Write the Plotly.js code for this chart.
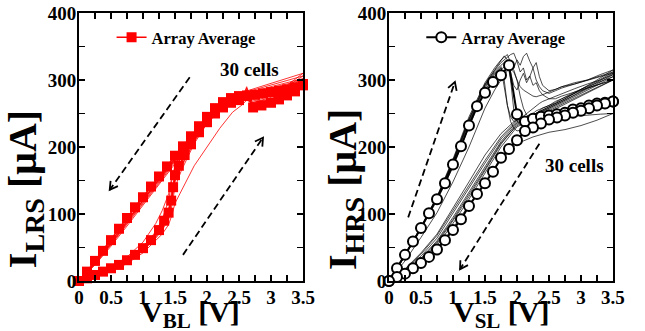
<!DOCTYPE html>
<html><head><meta charset="utf-8">
<script src="https://cdn.plot.ly/plotly-3.0.1.min.js"></script>
<style>html,body{margin:0;padding:0;background:#fff}</style>
</head><body>
<div id="chart" style="width:645px;height:331px"></div>
<script>
// ---- tick labels ----
const xTickVals = [0,0.25,0.5,0.75,1,1.25,1.5,1.75,2,2.25,2.5,2.75,3,3.25,3.5];
const xTickText = ['0','','0.5','','1','','1.5','','2','','2.5','','3','','3.5'];
const yTickVals = [0,50,100,150,200,250,300,350,400];
const yTickText = ['0','','100','','200','','300','','400'];

// ---- LEFT panel: I_LRS vs V_BL ----
const lrsAvgUpV = [0,0.125,0.25,0.375,0.5,0.625,0.75,0.875,1.0,1.125,1.25,1.33,1.4,1.44,1.47,1.5,1.56,1.65,1.75,1.875,2.0,2.125,2.25,2.375,2.5,2.625,2.72,2.85,3.0,3.125,3.25,3.375,3.5];
const lrsAvgUpI = [0,4,9,14,19,24,31,39,49,61,76,90,102,120,140,158,172,188,204,222,237,250,259,266,270,276,259,262,266,271,277,283,292];
const lrsAvgDnV = [3.5,3.375,3.25,3.125,3.0,2.875,2.75,2.625,2.5,2.375,2.25,2.125,2.0,1.875,1.75,1.625,1.5,1.375,1.25,1.125,1.0,0.875,0.75,0.625,0.5,0.375,0.25,0.125,0];
const lrsAvgDnI = [294,289,286,284,282,280,278,277,276,273,267,258,245,231,216,201,187,171,156,141,125,110,94,78,61,45,30,14,0];

const lrsCellUpV = [0,0.25,0.5,0.75,1.0,1.2,1.3,1.4,1.45,1.5,1.6,1.8,2.0,2.2,2.4,2.55,2.62,2.7,3.0,3.25,3.5];
const lrsCellDnV = [3.5,3.0,2.5,2.25,2.0,1.75,1.5,1.25,1.0,0.75,0.5,0.25,0];
const lrsUp1 = [0,6,16,29,46,66,78,95,120,148,170,208,236,255,265,272,280,264,270,282,296];
const lrsUp2 = [0,8,19,33,52,72,86,108,135,158,178,214,240,258,268,274,286,266,272,285,300];
const lrsUp3 = [0,7,17,31,50,74,92,120,150,168,184,215,240,257,266,273,290,268,276,290,306];
const lrsUp4 = [0,5,14,26,42,60,70,84,98,116,135,172,200,228,252,263,270,266,274,288,302];
const lrsUp5 = [0,9,21,36,58,86,105,130,155,170,185,216,241,258,267,274,284,262,268,280,292];
const lrsUp6 = [0,6,15,28,45,64,76,92,112,140,165,205,235,254,265,271,282,265,271,284,298];
const lrsUp7 = [0,8,18,32,49,70,84,104,128,155,175,212,238,256,266,272,288,270,278,292,310];
const lrsUp8 = [0,7,16,30,47,66,79,98,124,150,172,209,237,255,265,272,285,263,269,279,289];
const lrsDn1 = [296,284,274,264,240,210,180,148,117,86,55,26,0];
const lrsDn2 = [300,288,276,266,242,212,182,151,120,89,57,27,0];
const lrsDn3 = [306,292,279,268,244,214,184,153,121,90,58,28,0];
const lrsDn4 = [302,290,277,266,238,206,175,143,112,82,52,24,0];
const lrsDn5 = [292,282,272,263,241,212,183,152,121,90,58,28,0];
const lrsDn6 = [298,286,275,265,239,208,178,146,115,85,54,25,0];
const lrsDn7 = [310,295,280,268,243,213,183,152,120,88,56,27,0];
const lrsDn8 = [289,280,272,263,240,211,181,150,119,88,56,27,0];

// ---- RIGHT panel: I_HRS vs V_SL ----
const hrsAvgUpV = [0,0.125,0.25,0.375,0.5,0.625,0.75,0.875,1.0,1.125,1.25,1.375,1.5,1.625,1.75,1.875,2.0,2.125,2.25,2.375,2.5,2.625,2.75,2.875,3.0,3.125,3.25,3.375,3.5];
const hrsAvgUpI = [0,19,39,59,79,101,122,146,174,201,232,261,281,297,307,322,249,238,242,245,247,249,251,256,258,262,265,266,268];
const hrsAvgDnV = [3.5,3.375,3.25,3.125,3.0,2.875,2.75,2.625,2.5,2.375,2.25,2.125,2.0,1.875,1.75,1.625,1.5,1.375,1.25,1.125,1.0,0.875,0.75,0.625,0.5,0.375,0.25,0.125,0];
const hrsAvgDnI = [268,265,262,258,254,251,247,244,241,235,229,224,210,197,184,163,146,130,112,92,76,61,47,36,27,19,11,6,0];

const hrsCellUpV = [0,0.25,0.5,0.75,1.0,1.25,1.5,1.65,1.75,1.8,1.85,1.9,1.95,2.0,2.05,2.1,2.15,2.2,2.25,2.3,2.35,2.4,2.5,2.6,2.7,2.9,3.1,3.3,3.5];
const hrsCellDnV = [3.5,3.25,3.0,2.75,2.5,2.25,2.0,1.75,1.5,1.25,1.0,0.75,0.5,0.25,0];
const hrsUp1 = [0,38,80,124,178,240,292,312,322,326,328,300,255,238,236,240,244,246,250,254,256,258,262,266,272,282,290,298,305];
const hrsUp2 = [0,39,81,126,182,245,296,318,330,334,338,326,318,330,322,335,340,328,318,326,305,292,284,286,290,296,300,306,312];
const hrsUp3 = [0,38,79,123,176,236,288,308,318,290,262,245,238,240,242,246,250,254,258,262,265,268,272,276,280,287,294,300,308];
const hrsUp4 = [0,37,78,120,170,230,285,305,315,320,318,316,312,300,276,258,248,244,246,250,254,258,262,268,272,280,288,294,300];
const hrsUp5 = [0,30,65,102,148,200,258,285,300,308,314,318,315,300,290,285,282,278,276,275,276,278,282,286,290,294,300,305,310];
const hrsUp6 = [0,38,79,123,177,238,290,310,320,300,262,238,228,224,225,226,228,230,232,234,236,238,240,242,244,246,248,249,250];
const hrsUp7 = [0,39,80,125,180,242,294,315,328,336,330,310,292,285,300,310,296,305,318,300,290,284,280,284,288,294,300,308,315];
const hrsUp8 = [0,38,80,124,179,241,293,314,326,330,335,338,340,328,312,318,300,306,292,296,284,278,272,272,276,282,288,294,300];
const hrsDn1 = [305,292,280,268,256,246,236,208,170,132,95,60,34,14,0];
const hrsDn2 = [312,298,286,272,260,248,240,215,180,142,104,68,40,17,0];
const hrsDn3 = [308,294,282,270,258,246,234,204,164,126,90,56,31,13,0];
const hrsDn4 = [300,288,276,264,252,242,230,200,160,122,86,53,30,12,0];
const hrsDn5 = [310,296,283,270,258,248,242,220,188,148,108,70,42,18,0];
const hrsDn6 = [250,240,232,226,222,215,205,180,148,113,79,49,28,11,0];
const hrsDn7 = [315,300,286,272,260,248,238,212,176,138,100,64,37,16,0];
const hrsDn8 = [300,289,278,266,254,244,232,206,167,129,92,58,33,14,0];

// ---- build traces ----
const FONT = "'Liberation Serif', 'Times New Roman', Times, serif";
const traces = [];
const lrsUps = [lrsUp1,lrsUp2,lrsUp3,lrsUp4,lrsUp5,lrsUp6,lrsUp7,lrsUp8];
const lrsDns = [lrsDn1,lrsDn2,lrsDn3,lrsDn4,lrsDn5,lrsDn6,lrsDn7,lrsDn8];
lrsUps.forEach((u,i)=>{
  traces.push({x: lrsCellUpV.concat(lrsCellDnV), y: u.concat(lrsDns[i]), mode:'lines',
    line:{color:'#ff0000', width:0.8}, xaxis:'x', yaxis:'y', showlegend:false, hoverinfo:'skip'});
});
traces.push({x: lrsAvgUpV.concat(lrsAvgDnV), y: lrsAvgUpI.concat(lrsAvgDnI), mode:'lines+markers',
  name:'Array Average', legend:'legend', cliponaxis:false,
  line:{color:'#ff0000', width:1.5}, marker:{symbol:'square', size:10, color:'#ff0000'},
  xaxis:'x', yaxis:'y'});

const hrsUps = [hrsUp1,hrsUp2,hrsUp3,hrsUp4,hrsUp5,hrsUp6,hrsUp7,hrsUp8];
const hrsDns = [hrsDn1,hrsDn2,hrsDn3,hrsDn4,hrsDn5,hrsDn6,hrsDn7,hrsDn8];
hrsUps.forEach((u,i)=>{
  traces.push({x: hrsCellUpV.concat(hrsCellDnV), y: u.concat(hrsDns[i]), mode:'lines',
    line:{color:'#000000', width:0.7}, xaxis:'x2', yaxis:'y2', showlegend:false, hoverinfo:'skip'});
});
traces.push({x: hrsAvgUpV.concat(hrsAvgDnV), y: hrsAvgUpI.concat(hrsAvgDnI), mode:'lines+markers',
  name:'Array Average', legend:'legend2', cliponaxis:false,
  line:{color:'#000000', width:2}, marker:{symbol:'circle', size:10, color:'#ffffff', line:{color:'#000000', width:2}},
  xaxis:'x2', yaxis:'y2'});

// ---- axes ----
function xAx(domain, anchor){
  return {domain:domain, anchor:anchor, range:[0,3.5], tickvals:xTickVals, ticktext:xTickText,
    ticks:'inside', ticklen:6, tickwidth:1.5, tickcolor:'#000', showline:true, linewidth:2, linecolor:'#000',
    mirror:'allticks', showgrid:false, zeroline:false, fixedrange:true, ticklabelstandoff:-2,
    tickfont:{family:FONT, size:19, color:'#000', weight:'bold'}};
}
function yAx(anchor){
  return {domain:[0,1], anchor:anchor, range:[0,400], tickvals:yTickVals, ticktext:yTickText,
    ticks:'inside', ticklen:6, tickwidth:1.5, tickcolor:'#000', showline:true, linewidth:2, linecolor:'#000',
    mirror:'allticks', showgrid:false, zeroline:false, fixedrange:true, ticklabelstandoff:-3,
    tickfont:{family:FONT, size:19, color:'#000', weight:'bold'}};
}

// ---- dashed arrows (decoration) ----
const arrowSpecs = [
  {xr:'x',  yr:'y',  x0:1.73, y0:304, x1:0.48, y1:136},
  {xr:'x',  yr:'y',  x0:1.625,y0:39,  x1:2.875,y1:214},
  {xr:'x2', yr:'y2', x0:0.30, y0:95,  x1:1.03, y1:297},
  {xr:'x2', yr:'y2', x0:2.35, y0:205, x1:1.11, y1:17.5}
];
const pxPerX = 64, pxPerY = 0.6675;
const shapes = [];
arrowSpecs.forEach(a=>{
  shapes.push({type:'line', xref:a.xr, yref:a.yr, x0:a.x0, y0:a.y0, x1:a.x1, y1:a.y1,
    line:{color:'#000', width:1.8, dash:'7px,4px'}});
  const dx=(a.x1-a.x0)*pxPerX, dy=(a.y1-a.y0)*pxPerY, L=Math.hypot(dx,dy);
  const bx=-dx/L, by=-dy/L, len=9, c=Math.cos(Math.PI/6), s=Math.sin(Math.PI/6);
  const p1=[len*(bx*c-by*s), len*(bx*s+by*c)];
  const p2=[len*(bx*c+by*s), len*(-bx*s+by*c)];
  shapes.push({type:'path', xref:a.xr, yref:a.yr, xsizemode:'pixel', ysizemode:'pixel',
    xanchor:a.x1, yanchor:a.y1,
    path:'M '+p1[0].toFixed(2)+','+p1[1].toFixed(2)+' L 0,0 L '+p2[0].toFixed(2)+','+p2[1].toFixed(2),
    line:{color:'#000', width:1.8}});
});

const annotations = [
  {xref:'paper', yref:'paper', x:-0.101, y:0.343, xanchor:'center', yanchor:'middle', textangle:-90, showarrow:false,
   text:'I<sub>LRS</sub> [μA]', font:{family:FONT, size:40, color:'#000', weight:'bold'}},
  {xref:'paper', yref:'paper', x:0.498, y:0.343, xanchor:'center', yanchor:'middle', textangle:-90, showarrow:false,
   text:'I<sub>HRS</sub> [μA]', font:{family:FONT, size:40, color:'#000', weight:'bold'}},
  {xref:'paper', yref:'paper', x:0.2097, y:-0.0445, xanchor:'center', yanchor:'top', showarrow:false,
   text:'V<sub>BL</sub> [V]', font:{family:FONT, size:30, color:'#000', weight:'bold'}},
  {xref:'paper', yref:'paper', x:0.7903, y:-0.0445, xanchor:'center', yanchor:'top', showarrow:false,
   text:'V<sub>SL</sub> [V]', font:{family:FONT, size:30, color:'#000', weight:'bold'}},
  {xref:'x', yref:'y', x:2.67, y:316, showarrow:false, text:'30 cells',
   font:{family:FONT, size:19, color:'#000', weight:'bold'}},
  {xref:'x2', yref:'y2', x:2.90, y:172, showarrow:false, text:'30 cells',
   font:{family:FONT, size:19, color:'#000', weight:'bold'}}
];

const legendStyle = (x)=>({x:x, y:0.974, xref:'paper', yref:'paper', xanchor:'left', yanchor:'top',
  bgcolor:'rgba(0,0,0,0)', borderwidth:0, itemwidth:30,
  font:{family:FONT, size:16.5, color:'#000', weight:'bold'}});

const layout = {
  width:645, height:331, paper_bgcolor:'#fff', plot_bgcolor:'#fff',
  font:{family:FONT, color:'#000'},
  margin:{l:79, r:32, t:13, b:50},
  xaxis: xAx([0,0.4195],'y'), yaxis: yAx('x'),
  xaxis2: xAx([0.5805,1],'y2'), yaxis2: yAx('x2'),
  legend: legendStyle(0.061), legend2: legendStyle(0.641),
  shapes: shapes, annotations: annotations, showlegend:true
};

Plotly.newPlot('chart', traces, layout, {staticPlot:true, displayModeBar:false});
</script>
</body></html>
